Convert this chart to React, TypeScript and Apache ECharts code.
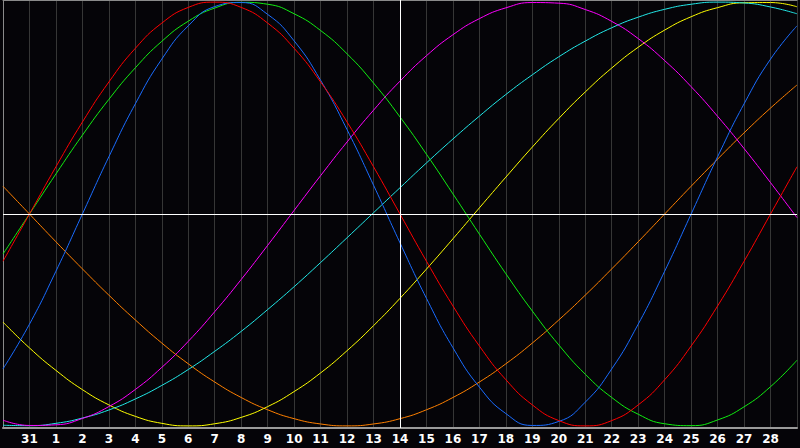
import React, { useEffect, useRef } from "react";
import * as echarts from "echarts";

// days shown along the bottom, one per gridline
const days = ["30", "31", "1", "2", "3", "4", "5", "6", "7", "8", "9", "10", "11", "12", "13", "14",
    "15", "16", "17", "18", "19", "20", "21", "22", "23", "24", "25", "26", "27", "28", "29"];

const redValues = [-0.223, 0, 0.223, 0.434, 0.623, 0.782, 0.901, 0.975, 1, 0.975, 0.901, 0.782, 0.623, 0.434, 0.223, 0,
    -0.223, -0.434, -0.623, -0.782, -0.901, -0.975, -1, -0.975, -0.901, -0.782, -0.623, -0.434, -0.223, 0, 0.223];
const greenValues = [-0.189, 0, 0.189, 0.372, 0.541, 0.69, 0.815, 0.91, 0.972, 0.999, 0.99, 0.945, 0.866, 0.756, 0.618, 0.458,
    0.282, 0.095, -0.095, -0.282, -0.458, -0.618, -0.756, -0.866, -0.945, -0.99, -0.999, -0.972, -0.91, -0.815, -0.69];
const blueValues = [-0.731, -0.52, -0.27, 0, 0.27, 0.52, 0.731, 0.888, 0.979, 0.998, 0.942, 0.817, 0.631, 0.398, 0.136, -0.136,
    -0.398, -0.631, -0.817, -0.942, -0.998, -0.979, -0.888, -0.731, -0.52, -0.27, 0, 0.27, 0.52, 0.731, 0.888];
const magentaValues = [-0.973, -0.998, -0.995, -0.965, -0.909, -0.828, -0.724, -0.601, -0.461, -0.309, -0.148, 0.017, 0.181, 0.34, 0.49, 0.627,
    0.747, 0.846, 0.922, 0.973, 0.998, 0.995, 0.965, 0.909, 0.828, 0.724, 0.601, 0.461, 0.309, 0.148, -0.017];
const cyanValues = [-0.997, -0.999, -0.988, -0.963, -0.925, -0.873, -0.809, -0.734, -0.648, -0.554, -0.451, -0.343, -0.229, -0.112, 0.006, 0.124,
    0.241, 0.354, 0.462, 0.564, 0.657, 0.742, 0.816, 0.879, 0.929, 0.966, 0.99, 1, 0.996, 0.977, 0.945];
const yellowValues = [-0.51, -0.632, -0.738, -0.829, -0.901, -0.955, -0.988, -1, -0.99, -0.96, -0.909, -0.838, -0.75, -0.645, -0.527, -0.398,
    -0.26, -0.117, 0.029, 0.174, 0.316, 0.451, 0.576, 0.689, 0.787, 0.868, 0.931, 0.974, 0.997, 0.998, 0.978];
const orangeValues = [0.131, 0, -0.131, -0.259, -0.383, -0.5, -0.609, -0.707, -0.793, -0.866, -0.924, -0.966, -0.991, -1, -0.991, -0.966,
    -0.924, -0.866, -0.793, -0.707, -0.609, -0.5, -0.383, -0.259, -0.131, 0, 0.131, 0.259, 0.383, 0.5, 0.609];

const curves = [
    { name: "orange", color: "#ff8000", data: orangeValues },
    { name: "yellow", color: "#ffff00", data: yellowValues },
    { name: "cyan", color: "#22e8e8", data: cyanValues },
    { name: "magenta", color: "#ff00ff", data: magentaValues },
    { name: "green", color: "#11ee11", data: greenValues },
    { name: "blue", color: "#1a6cff", data: blueValues },
    { name: "red", color: "#ff0000", data: redValues },
];

const App: React.FC = () => {
    const chartRef = useRef<HTMLDivElement>(null);

    useEffect(() => {
        const chart = echarts.init(chartRef.current!, null, { renderer: "svg" });

        const series: any[] = curves.map((c) => ({
            name: c.name,
            type: "line",
            data: c.data,
            smooth: 0.5,
            symbol: "none",
            lineStyle: { color: c.color, width: 1 },
            z: 3,
        }));

        // centre cross
        series.push({
            type: "line",
            data: [],
            z: 2,
            markLine: {
                silent: true,
                symbol: "none",
                label: { show: false },
                lineStyle: { color: "#ffffff", width: 1, type: "solid" },
                data: [{ yAxis: 0 }, { xAxis: "14" }],
            },
        });

        const option: any = {
            animation: false,
            backgroundColor: "#050408",
            grid: { left: 0, right: 0, top: 0, bottom: 20 },
            xAxis: [
                {
                    type: "category",
                    data: days,
                    boundaryGap: false,
                    axisLine: { show: true, onZero: false, lineStyle: { color: "#9a9a9a", width: 2 } },
                    axisTick: { show: false },
                    splitLine: { show: true, lineStyle: { color: "#363636", width: 1 } },
                    axisLabel: {
                        color: "#ffffff",
                        fontFamily: "DejaVu Sans",
                        fontWeight: "bold",
                        fontSize: 12,
                        margin: 5,
                        interval: 0,
                        formatter: (v: string, i: number) => (i === 0 || i === days.length - 1 ? "" : v),
                    },
                },
                {
                    type: "category",
                    data: days,
                    position: "top",
                    boundaryGap: false,
                    axisLine: { show: true, onZero: false, lineStyle: { color: "#8a8a8a", width: 1 } },
                    axisTick: { show: false },
                    axisLabel: { show: false },
                    splitLine: { show: false },
                },
            ],
            yAxis: {
                type: "value",
                min: -1.01,
                max: 1.01,
                axisLine: { show: true, lineStyle: { color: "#8a8a8a", width: 1 } },
                axisTick: { show: false },
                axisLabel: { show: false },
                splitLine: { show: false },
            },
            series,
        };

        chart.setOption(option);

        return () => {
            chart.dispose();
        };
    }, []);

    return (
        <div
            style={{ position: "fixed", left: 0, top: 0, width: "800px", height: "448px", background: "#050408" }}
            ref={chartRef}
        ></div>
    );
};

export default App;
